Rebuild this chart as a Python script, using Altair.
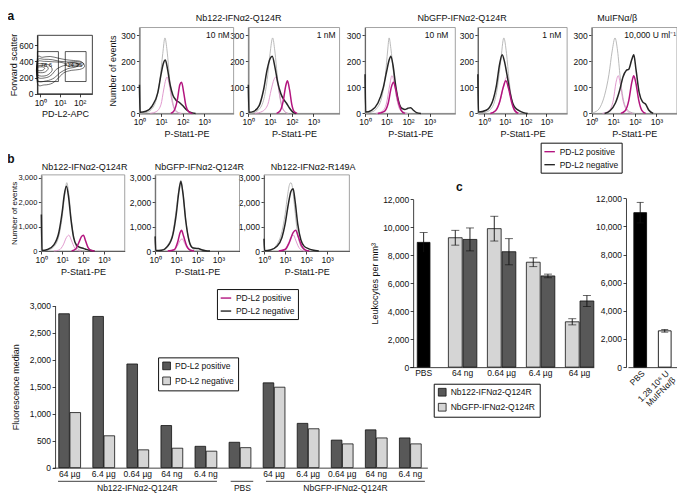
import altair as alt
import pandas as pd

# ---------------------------------------------------------------- geometry
W, H = 669, 486
SX = W / 682.0
SY = H / 498.0


def X(p):
    return (p - 2) * SX


def Y(p):
    return (p - 2) * SY


FONT = "Liberation Sans"
INK = "#111111"
MAG = "#b3157f"
PINK = "#dd8fc8"
BLACK = "#262626"
GREY = "#b2b2b2"
DARK_BAR = "#585858"
LIGHT_BAR = "#d5d5d5"

POS = "PD-L2 positive"
NEG = "PD-L2 negative"
POS_C = "PD-L2 positive (control)"
NEG_C = "PD-L2 negative (control)"
SERIES = [POS, NEG, POS_C, NEG_C]
SERIES_COLORS = [MAG, BLACK, PINK, GREY]

# ---------------------------------------------------------------- data
# Panel a, gating plot: (log10 PD-L2-APC, forward scatter)
GATE_NAMES = ["78.6", "14.35"]
GATE_X0 = [-0.15, 1.27]
GATE_X1 = [0.92, 2.33]
GATE_Y0 = [152, 152]
GATE_Y1 = [520, 520]
CONTOUR_OUTER = [(-0.15, 130), (0.2, 110), (0.6, 130), (0.9, 190), (1.2, 260), (1.6, 290), (2.0, 300),
                 (2.25, 335), (2.1, 395), (1.7, 410), (1.3, 420), (0.9, 440), (0.5, 460), (0.1, 450), (-0.15, 440)]
CONTOUR_MID = [(-0.15, 170), (0.3, 160), (0.7, 195), (1.0, 260), (1.4, 310), (1.8, 330), (1.95, 365),
               (1.5, 390), (1.0, 400), (0.6, 420), (0.2, 425), (-0.15, 410)]
CONTOUR_INNER = [(-0.15, 210), (0.3, 200), (0.6, 240), (0.8, 300), (1.1, 340), (1.35, 360), (1.1, 385),
                 (0.6, 395), (0.2, 400), (-0.15, 390)]
CONTOUR_CORE = [(-0.15, 235), (0.3, 225), (0.6, 290), (0.45, 355), (0.1, 368), (-0.15, 360)]
CONTOUR_PEAK = [(-0.15, 270), (0.2, 265), (0.4, 310), (0.25, 345), (-0.15, 340)]
CONTOUR_PEAK2 = [(-0.15, 290), (0.1, 288), (0.22, 315), (0.1, 332), (-0.15, 325)]
CONTOUR_RIGHT = [(1.3, 350), (1.7, 340), (2.1, 350), (2.2, 375), (1.9, 395), (1.5, 390), (1.3, 370)]
CONTOUR_RIGHT2 = [(1.5, 360), (1.8, 355), (2.0, 368), (1.8, 382), (1.55, 378)]

# Panel a histograms: (log10 P-Stat1-PE, number of events)
A1_NEGC = [(0.0, 0), (0.3, 3), (0.55, 15), (0.8, 60), (0.95, 130), (1.08, 230), (1.18, 290), (1.28, 240),
           (1.4, 130), (1.55, 40), (1.7, 10), (1.9, 0)]
A1_NEG = [(0.0, 110), (0.03, 4), (0.3, 8), (0.6, 30), (0.85, 80), (1.0, 150), (1.1, 190), (1.2, 205), (1.3, 170),
          (1.42, 110), (1.55, 70), (1.7, 50), (1.85, 42), (2.0, 30), (2.2, 12), (2.45, 2), (2.6, 0)]
A1_POSC = [(0.5, 0), (0.8, 8), (1.0, 35), (1.12, 90), (1.22, 130), (1.28, 140), (1.38, 110), (1.5, 50),
           (1.62, 15), (1.8, 2), (1.95, 0)]
A1_POS = [(1.45, 0), (1.6, 10), (1.75, 50), (1.87, 110), (1.95, 120), (2.05, 80), (2.15, 30), (2.3, 5), (2.45, 0)]

A2_NEGC = [(0.0, 0), (0.2, 2), (0.45, 12), (0.7, 50), (0.87, 130), (1.0, 230), (1.12, 290), (1.22, 240),
           (1.35, 130), (1.5, 40), (1.65, 10), (1.85, 0)]
A2_NEG = [(0.0, 110), (0.03, 4), (0.25, 8), (0.5, 30), (0.7, 90), (0.87, 170), (1.0, 210), (1.1, 220),
          (1.22, 180), (1.35, 120), (1.5, 75), (1.62, 55), (1.75, 40), (1.9, 20), (2.05, 5), (2.2, 0)]
A2_POSC = [(0.3, 0), (0.65, 8), (0.9, 35), (1.05, 90), (1.18, 130), (1.27, 140), (1.37, 105), (1.5, 45),
           (1.62, 12), (1.8, 0)]
A2_POS = [(1.3, 0), (1.45, 8), (1.6, 45), (1.72, 105), (1.8, 125), (1.9, 90), (2.0, 35), (2.12, 6), (2.25, 0)]

A3_NEGC = [(0.0, 0), (0.3, 5), (0.55, 20), (0.8, 70), (0.95, 150), (1.05, 240), (1.12, 290), (1.2, 250),
           (1.32, 160), (1.45, 70), (1.6, 25), (1.8, 5), (2.0, 0)]
A3_NEG = [(0.0, 150), (0.03, 5), (0.3, 12), (0.6, 40), (0.85, 100), (1.0, 160), (1.12, 205), (1.2, 220),
          (1.3, 185), (1.42, 110), (1.55, 50), (1.7, 20), (1.85, 15), (2.0, 20), (2.12, 22), (2.25, 12),
          (2.4, 3), (2.6, 0)]
A3_POSC = [(0.5, 0), (0.8, 8), (1.0, 40), (1.15, 110), (1.25, 145), (1.35, 120), (1.47, 60), (1.6, 18),
           (1.8, 2), (1.95, 0)]
A3_POS = [(0.6, 0), (0.9, 8), (1.08, 40), (1.22, 100), (1.32, 120), (1.42, 95), (1.55, 45), (1.68, 12), (1.85, 0)]

A4_NEGC = [(-0.3, 0), (0.1, 5), (0.4, 25), (0.6, 80), (0.8, 200), (0.95, 290), (1.08, 230), (1.2, 130),
           (1.35, 45), (1.5, 12), (1.7, 0)]
A4_NEG = [(-0.3, 150), (-0.27, 5), (0.1, 12), (0.4, 45), (0.6, 110), (0.75, 190), (0.87, 225), (0.98, 200),
          (1.1, 150), (1.25, 80), (1.4, 35), (1.55, 18), (1.7, 10), (1.9, 3), (2.1, 0)]
A4_POSC = [(0.3, 0), (0.6, 15), (0.8, 55), (0.95, 110), (1.1, 140), (1.22, 100), (1.35, 45), (1.5, 12), (1.7, 0)]
A4_POS = [(0.3, 0), (0.55, 10), (0.75, 45), (0.92, 100), (1.05, 125), (1.18, 95), (1.32, 45), (1.48, 10),
          (1.65, 0)]

A5_NEGC = [(0.0, 2), (0.15, 5), (0.4, 25), (0.6, 70), (0.8, 150), (0.95, 240), (1.08, 290), (1.2, 240),
           (1.32, 140), (1.45, 60), (1.6, 20), (1.8, 5), (2.0, 0)]
A5_NEG = [(0.6, 0), (0.85, 10), (1.1, 40), (1.3, 90), (1.45, 140), (1.6, 165), (1.72, 170), (1.85, 205),
          (1.95, 225), (2.05, 170), (2.2, 80), (2.35, 45), (2.5, 35), (2.65, 12), (2.85, 0)]
A5_POSC = [(0.5, 0), (0.8, 10), (1.0, 50), (1.13, 120), (1.23, 145), (1.33, 110), (1.45, 50), (1.6, 15),
           (1.75, 3), (1.9, 0)]
A5_POS = [(1.35, 0), (1.55, 10), (1.72, 50), (1.86, 120), (1.95, 145), (2.05, 115), (2.18, 50), (2.32, 12),
          (2.5, 0)]

# Panel b histograms
B1_NEGC = [(0.0, 0), (0.3, 30), (0.6, 180), (0.85, 650), (1.0, 1400), (1.12, 2300), (1.22, 2800), (1.32, 2300),
           (1.45, 1200), (1.58, 450), (1.72, 120), (1.9, 20), (2.1, 0)]
B1_NEG = [(0.0, 1500), (0.03, 20), (0.3, 60), (0.6, 250), (0.85, 800), (1.0, 1600), (1.1, 2300), (1.2, 2650),
          (1.3, 2250), (1.42, 1300), (1.55, 550), (1.68, 250), (1.82, 160), (1.95, 120), (2.1, 80), (2.3, 30),
          (2.55, 0)]
B1_POSC = [(0.6, 0), (0.85, 40), (1.05, 250), (1.2, 550), (1.32, 650), (1.45, 420), (1.6, 120), (1.75, 20),
           (1.9, 0)]
B1_POS = [(1.45, 0), (1.65, 80), (1.8, 350), (1.93, 600), (2.02, 650), (2.12, 420), (2.25, 130), (2.4, 20),
          (2.55, 0)]

B2_NEGC = [(0.0, 0), (0.3, 40), (0.6, 250), (0.85, 800), (1.0, 1700), (1.12, 2500), (1.22, 2900), (1.32, 2400),
           (1.45, 1300), (1.6, 450), (1.75, 120), (1.95, 20), (2.2, 0)]
B2_NEG = [(0.0, 600), (0.03, 20), (0.3, 30), (0.6, 200), (0.85, 700), (1.0, 1500), (1.12, 2400), (1.22, 2850),
          (1.32, 2350), (1.45, 1250), (1.6, 450), (1.75, 150), (1.9, 110), (2.05, 100), (2.2, 50), (2.4, 10),
          (2.6, 0)]
B2_POSC = [(0.6, 0), (0.9, 40), (1.08, 250), (1.2, 450), (1.28, 500), (1.38, 350), (1.52, 120), (1.68, 20),
           (1.85, 0)]
B2_POS = [(0.6, 0), (0.9, 50), (1.08, 400), (1.18, 750), (1.25, 850), (1.35, 600), (1.5, 200), (1.65, 40),
          (1.85, 0)]

B3_NEGC = [(0.0, 0), (0.3, 40), (0.6, 250), (0.85, 800), (1.0, 1500), (1.12, 2300), (1.22, 2750), (1.28, 2800),
           (1.35, 2600), (1.45, 1800), (1.58, 800), (1.72, 250), (1.9, 50), (2.1, 0)]
B3_NEG = [(0.0, 500), (0.03, 10), (0.3, 40), (0.6, 180), (0.85, 550), (1.0, 1100), (1.15, 1900), (1.28, 2450),
          (1.38, 2550), (1.48, 2000), (1.6, 1100), (1.75, 450), (1.9, 200), (2.1, 100), (2.3, 40), (2.6, 0)]
B3_POSC = [(0.7, 0), (0.95, 50), (1.15, 300), (1.3, 600), (1.4, 650), (1.5, 450), (1.65, 150), (1.8, 30),
           (1.95, 0)]
B3_POS = [(0.7, 0), (1.0, 60), (1.2, 350), (1.38, 750), (1.5, 850), (1.62, 600), (1.78, 220), (1.95, 50),
          (2.15, 0)]

# Panel b bar chart: fluorescence median
NB122 = "Nb122-IFN\u03b12-Q124R"
NBGFP = "NbGFP-IFN\u03b12-Q124R"
B_GROUP = [NB122] * 5 + ["PBS"] + [NBGFP] * 5
B_DOSE = ["64 \u00b5g", "6.4 \u00b5g", "0.64 \u00b5g", "64 ng", "6.4 ng", "",
          "64 \u00b5g", "6.4 \u00b5g", "0.64 \u00b5g", "64 ng", "6.4 ng"]
B_POS_MEDIAN = [2850, 2800, 1920, 780, 395, 470, 1570, 820, 510, 700, 550]
B_NEG_MEDIAN = [1020, 590, 330, 360, 305, 370, 1490, 720, 440, 550, 440]

# Panel c: leukocytes per mm3
C_DOSES = ["64 ng", "0.64 \u00b5g", "6.4 \u00b5g", "64 \u00b5g"]
C_GFP = [9250, 9900, 7500, 3240]
C_GFP_ERR = [530, 885, 315, 220]
C_NB122 = [9130, 8250, 6520, 4730]
C_NB122_ERR = [820, 935, 130, 395]
C_PBS = 8920
C_PBS_ERR = 700
C2_CATS = ["PBS", "1.28 10\u2076 U|MuIFN\u03b1/\u03b2"]
C2_MEAN = [10980, 2580]
C2_ERR = [730, 95]

# ---------------------------------------------------------------- helpers
SUP = "['10\u2070','10\u00b9','10\u00b2','10\u00b3'][datum.value]"
AX = dict(tickSize=3, labelPadding=1.5, domainWidth=0.8, tickWidth=0.8, titlePadding=3,
          labelFlush=False, labelOverlap=False)
ONE = alt.Data(values=[{"k": 1}])
NUM = ",.0f"


def curve_df(points, series):
    return pd.DataFrame({"logx": [p[0] for p in points], "events": [p[1] for p in points],
                         "series": series, "i": list(range(len(points)))})


def hist(neg, pos, negc, posc, box, xdom, ydom, yticks, ytitle=None, legend=None, title_x=None):
    x0, y0, x1, y1 = box

    def xs():
        return alt.Scale(domain=xdom, range=[X(x0), X(x1)], nice=False, zero=False)

    def ys():
        return alt.Scale(domain=ydom, range=[Y(y1), Y(y0)], nice=False, zero=False)

    def col(lg):
        return alt.Color("series:N", scale=alt.Scale(domain=SERIES, range=SERIES_COLORS), legend=lg)

    xax = alt.Axis(orient="bottom", offset=Y(y1) - H, values=[0, 1, 2, 3], labelExpr=SUP,
                   title="P-Stat1-PE", **AX)
    ykw = dict(orient="left", offset=-X(x0), values=yticks, format=NUM, title=ytitle, **AX)
    if title_x is not None:
        ykw["titleX"] = title_x - X(x0)
        ykw["labelFontSize"] = 7.5
        ykw["titleFontSize"] = 8
    yax = alt.Axis(**ykw)
    frame = alt.Chart(ONE).mark_rect(fillOpacity=0, stroke="#8c8c8c", strokeWidth=0.8).encode(
        x=alt.XDatum(xdom[0], type="quantitative", scale=xs(), axis=None),
        x2=alt.X2Datum(xdom[1]),
        y=alt.YDatum(ydom[0], type="quantitative", scale=ys(), axis=None),
        y2=alt.Y2Datum(ydom[1]))
    ctrl = alt.Chart(pd.concat([curve_df(negc, NEG_C), curve_df(posc, POS_C)])).mark_line(
        strokeWidth=0.9, interpolate="monotone").encode(
        x=alt.X("logx:Q", scale=xs(), axis=xax),
        y=alt.Y("events:Q", scale=ys(), axis=yax),
        color=col(None), detail="series:N", order="i:Q")
    main = alt.Chart(pd.concat([curve_df(neg, NEG), curve_df(pos, POS)])).mark_line(
        strokeWidth=1.5, interpolate="monotone").encode(
        x=alt.X("logx:Q", scale=xs(), axis=None),
        y=alt.Y("events:Q", scale=ys(), axis=None),
        color=col(legend), detail="series:N", order="i:Q")
    return [frame, ctrl, main]


def txt(s, x, y, size=9.0, align="center", weight="normal", baseline="middle"):
    return alt.Chart(ONE).mark_text(text=s, align=align, baseline=baseline, fontSize=size, font=FONT,
                                    fontWeight=weight, color=INK).encode(
        x=alt.value(X(x)), y=alt.value(Y(y)))


def hline(x0, x1, y):
    return alt.Chart(ONE).mark_rule(color=INK, strokeWidth=0.8).encode(
        x=alt.value(X(x0)), x2=alt.value(X(x1)), y=alt.value(Y(y)))


def line_legend(x, y):
    return alt.Legend(values=[POS, NEG], orient="none", legendX=X(x), legendY=Y(y), title=None,
                      symbolType="stroke", symbolSize=110, symbolStrokeWidth=1.4, strokeColor=INK,
                      padding=3, rowPadding=2, labelFontSize=8.5, labelFont=FONT, labelColor=INK)


def box_legend(values, x, y):
    return alt.Legend(values=values, orient="none", legendX=X(x), legendY=Y(y), title=None,
                      symbolType="square", symbolSize=60, symbolStrokeColor=INK, symbolStrokeWidth=0.8,
                      strokeColor=INK, padding=4, rowPadding=4, labelFontSize=8.5, labelFont=FONT,
                      labelColor=INK)


layers = []

# ---------------------------------------------------------------- panel a: gating plot
contour_rows = []
for cid, pts in enumerate([CONTOUR_OUTER, CONTOUR_MID, CONTOUR_INNER, CONTOUR_CORE, CONTOUR_PEAK,
                           CONTOUR_PEAK2, CONTOUR_RIGHT, CONTOUR_RIGHT2]):
    for i, (lx, fsc) in enumerate(pts):
        contour_rows.append({"cid": cid, "i": i, "logx": lx, "fsc": fsc})
contours = pd.DataFrame(contour_rows)
gates = pd.DataFrame({"gate": GATE_NAMES, "x0": GATE_X0, "x1": GATE_X1, "y0": GATE_Y0, "y1": GATE_Y1})


def gx():
    return alt.Scale(domain=[-0.15, 2.65], range=[X(32), X(88)], nice=False, zero=False)


def gy():
    return alt.Scale(domain=[0, 720], range=[Y(90), Y(30)], nice=False, zero=False)


layers.append(alt.Chart(ONE).mark_rect(fillOpacity=0, stroke=INK, strokeWidth=0.8).encode(
    x=alt.XDatum(-0.15, type="quantitative", scale=gx(), axis=None), x2=alt.X2Datum(2.65),
    y=alt.YDatum(0, type="quantitative", scale=gy(), axis=None), y2=alt.Y2Datum(720)))
layers.append(alt.Chart(contours).mark_line(color=INK, strokeWidth=0.6, interpolate="cardinal-closed").encode(
    x=alt.X("logx:Q", scale=gx(), axis=alt.Axis(orient="bottom", offset=Y(90) - H, values=[0, 1, 2],
                                                labelExpr=SUP, title="PD-L2-APC", **AX)),
    y=alt.Y("fsc:Q", scale=gy(), axis=alt.Axis(orient="left", offset=-X(32), values=[0, 200, 400, 600],
                                               format=NUM, title="Forward scatter", titleX=10 - X(32), **AX)),
    detail="cid:N", order="i:Q"))
layers.append(alt.Chart(gates).mark_rect(fillOpacity=0, stroke=INK, strokeWidth=0.7).encode(
    x=alt.X("x0:Q", scale=gx(), axis=None), x2="x1:Q",
    y=alt.Y("y0:Q", scale=gy(), axis=None), y2="y1:Q"))
layers.append(txt("78.6", 41, 60, size=6))
layers.append(txt("14.35", 70, 60, size=6))

# ---------------------------------------------------------------- panel a: histograms
YA = [0, 100, 200, 300]
layers += hist(A1_NEG, A1_POS, A1_NEGC, A1_POSC, (136, 22, 232, 110), [0, 4.36], [0, 330], YA,
               ytitle="Number of events")
layers += hist(A2_NEG, A2_POS, A2_NEGC, A2_POSC, (247, 22, 340, 110), [0, 4.2], [0, 330], YA)
layers += hist(A3_NEG, A3_POS, A3_NEGC, A3_POSC, (366, 22, 458, 110), [0, 4.2], [0, 330], YA)
layers += hist(A4_NEG, A4_POS, A4_NEGC, A4_POSC, (481, 22, 572, 110), [-0.3, 4.0], [0, 330], YA)
layers += hist(A5_NEG, A5_POS, A5_NEGC, A5_POSC, (597, 22, 684, 110), [0, 3.95], [0, 330], YA,
               legend=line_legend(545, 140))

# ---------------------------------------------------------------- panel b: histograms
YB = [0, 1000, 2000, 3000]
layers += hist(B1_NEG, B1_POS, B1_NEGC, B1_POSC, (36, 173, 121, 251), [0, 4.0], [0, 3120], YB,
               ytitle="Number of events", title_x=10.6)
layers += hist(B2_NEG, B2_POS, B2_NEGC, B2_POSC, (152, 173, 238, 251), [0, 4.0], [0, 3120], YB)
layers += hist(B3_NEG, B3_POS, B3_NEGC, B3_POSC, (263, 173, 350, 251), [0, 4.05], [0, 3120], YB,
               legend=line_legend(215, 290))

# ---------------------------------------------------------------- panel b: bar chart
b_keys = ["%02d|%s" % (i, d) for i, d in enumerate(B_DOSE)]
bar_b = pd.DataFrame({
    "key": b_keys * 2,
    "group": B_GROUP * 2,
    "pop": [POS] * len(b_keys) + [NEG] * len(b_keys),
    "median": B_POS_MEDIAN + B_NEG_MEDIAN,
})
layers.append(alt.Chart(bar_b).mark_bar(stroke=INK, strokeWidth=0.8).encode(
    x=alt.X("key:N", sort=b_keys,
            scale=alt.Scale(domain=b_keys, range=[X(47.5), X(429.5)], paddingInner=0.36, paddingOuter=0.18),
            axis=alt.Axis(orient="bottom", offset=Y(473) - H, ticks=False, title=None,
                          labelExpr="split(datum.label, '|')[1]", labelAngle=0, **AX)),
    xOffset=alt.XOffset("pop:N", scale=alt.Scale(domain=[POS, NEG], paddingInner=0.05)),
    y=alt.Y("median:Q", scale=alt.Scale(domain=[0, 3000], range=[Y(473), Y(307)], nice=False, zero=False),
            axis=alt.Axis(orient="left", offset=-X(50), values=list(range(0, 3001, 500)), format=NUM,
                          title="Fluorescence median", titleX=12 - X(50), **AX)),
    color=alt.Color("pop:N", scale=alt.Scale(domain=[POS, NEG], range=[DARK_BAR, LIGHT_BAR]),
                    legend=box_legend([POS, NEG], 155, 360))))
layers.append(hline(53, 215, 487))
layers.append(hline(229, 252, 487))
layers.append(hline(265, 427, 487))
layers.append(txt(NB122, 134, 494, size=8.5))
layers.append(txt("PBS", 241, 494, size=8.5))
layers.append(txt(NBGFP, 346, 494, size=8.5))

# ---------------------------------------------------------------- panel c: dose response
C_CATS = ["PBS"] + C_DOSES
pairs = pd.DataFrame({
    "cat": C_DOSES * 2,
    "treat": [NBGFP] * 4 + [NB122] * 4,
    "mean": C_GFP + C_NB122,
    "err": C_GFP_ERR + C_NB122_ERR,
})
pairs["lo"] = pairs["mean"] - pairs["err"]
pairs["hi"] = pairs["mean"] + pairs["err"]
pbs = pd.DataFrame({"cat": ["PBS"], "mean": [C_PBS], "lo": [C_PBS - C_PBS_ERR], "hi": [C_PBS + C_PBS_ERR]})


def cx(ax=None):
    return alt.X("cat:N", sort=C_CATS, axis=ax,
                 scale=alt.Scale(domain=C_CATS, range=[X(411.2), X(599.2)], paddingInner=0.27, paddingOuter=0))


def cy(field, ax=None):
    return alt.Y(field, axis=ax, scale=alt.Scale(domain=[0, 12000], range=[Y(370), Y(198)], nice=False, zero=False))


def coff():
    return alt.XOffset("treat:N", scale=alt.Scale(domain=[NBGFP, NB122], paddingInner=0.06))


layers.append(alt.Chart(pairs).mark_bar(stroke=INK, strokeWidth=0.8).encode(
    x=cx(alt.Axis(orient="bottom", offset=Y(370) - H, ticks=False, title=None, labelAngle=0, **AX)),
    xOffset=coff(),
    y=cy("mean:Q", alt.Axis(orient="left", offset=-X(415), values=list(range(0, 12001, 2000)), format=NUM,
                            title="Leukocytes per mm\u00b3", **AX)),
    color=alt.Color("treat:N", scale=alt.Scale(domain=[NB122, NBGFP], range=[DARK_BAR, LIGHT_BAR]),
                    legend=box_legend([NB122, NBGFP], 436, 387))))
layers.append(alt.Chart(pairs).mark_rule(color=INK, strokeWidth=0.9).encode(
    x=cx(), xOffset=coff(), y=cy("lo:Q"), y2="hi:Q"))
layers.append(alt.Chart(pairs).mark_tick(color=INK, thickness=0.9, size=8, orient="horizontal").encode(
    x=cx(), xOffset=coff(), y=cy("lo:Q")))
layers.append(alt.Chart(pairs).mark_tick(color=INK, thickness=0.9, size=8, orient="horizontal").encode(
    x=cx(), xOffset=coff(), y=cy("hi:Q")))
layers.append(alt.Chart(pbs).mark_bar(fill="#000000", stroke=INK, strokeWidth=0.8, width=13 * SX).encode(
    x=cx(), y=cy("mean:Q")))
layers.append(alt.Chart(pbs).mark_rule(color=INK, strokeWidth=0.9).encode(
    x=cx(), y=cy("lo:Q"), y2="hi:Q"))
layers.append(alt.Chart(pbs).mark_tick(color=INK, thickness=0.9, size=8, orient="horizontal").encode(
    x=cx(), y=cy("hi:Q")))

# ---------------------------------------------------------------- panel c: MuIFN
c2 = pd.DataFrame({"cat": C2_CATS, "mean": C2_MEAN, "err": C2_ERR})
c2["lo"] = c2["mean"] - c2["err"]
c2["hi"] = c2["mean"] + c2["err"]


def c2x(ax=None):
    return alt.X("cat:N", sort=C2_CATS, axis=ax,
                 scale=alt.Scale(domain=C2_CATS, range=[X(634), X(684)], paddingInner=0, paddingOuter=0))


def c2y(field, ax=None):
    return alt.Y(field, axis=ax, scale=alt.Scale(domain=[0, 12000], range=[Y(370), Y(197)], nice=False, zero=False))


layers.append(alt.Chart(c2).mark_bar(stroke=INK, strokeWidth=0.9, width=13 * SX).encode(
    x=c2x(alt.Axis(orient="bottom", offset=Y(370) - H, ticks=False, title=None, labelAngle=315,
                   labelExpr="split(datum.label, '|')", labelAlign="right", labelBaseline="top",
                   labelLineHeight=9, **AX)),
    y=c2y("mean:Q", alt.Axis(orient="left", offset=-X(632), values=list(range(0, 12001, 2000)), format=NUM,
                             title=None, **AX)),
    color=alt.Color("cat:N", scale=alt.Scale(domain=C2_CATS, range=["#000000", "#ffffff"]), legend=None)))
layers.append(alt.Chart(c2).mark_rule(color=INK, strokeWidth=0.9).encode(
    x=c2x(), y=c2y("lo:Q"), y2="hi:Q"))
layers.append(alt.Chart(c2).mark_tick(color=INK, thickness=0.9, size=7, orient="horizontal").encode(
    x=c2x(), y=c2y("lo:Q")))
layers.append(alt.Chart(c2).mark_tick(color=INK, thickness=0.9, size=7, orient="horizontal").encode(
    x=c2x(), y=c2y("hi:Q")))

# ---------------------------------------------------------------- titles and annotations
layers += [
    txt("a", 5, 10, size=12, weight="bold"),
    txt("b", 5, 157, size=12, weight="bold"),
    txt("c", 462, 185, size=12, weight="bold"),
    txt(NB122, 237, 12),
    txt(NBGFP, 465, 12),
    txt("MuIFN\u03b1/\u03b2", 623, 12),
    txt("10 nM", 228, 30, size=8.5, align="right"),
    txt("1 nM", 336, 30, size=8.5, align="right"),
    txt("10 nM", 451, 30, size=8.5, align="right"),
    txt("1 nM", 566, 30, size=8.5, align="right"),
    txt("10,000 U ml\u207b\u00b9", 683, 30, size=8.5, align="right"),
    txt(NB122, 80, 165),
    txt(NBGFP, 197, 165),
    txt("Nb122-IFN\u03b12-R149A", 313, 165),
]

chart = alt.layer(*layers).resolve_scale(
    x="independent", y="independent", color="independent", xOffset="independent"
).resolve_legend(color="independent").properties(
    width=W, height=H, autosize=alt.AutoSizeParams(type="none"), padding=0
).configure_view(strokeWidth=0).configure_axis(
    grid=False, labelFont=FONT, titleFont=FONT, labelFontSize=8.5, titleFontSize=9,
    titleFontWeight="normal", labelColor=INK, titleColor=INK, domainColor=INK, tickColor=INK
).configure_legend(labelFont=FONT)

chart.save("out.html", embed_options={"renderer": "svg", "actions": False})
